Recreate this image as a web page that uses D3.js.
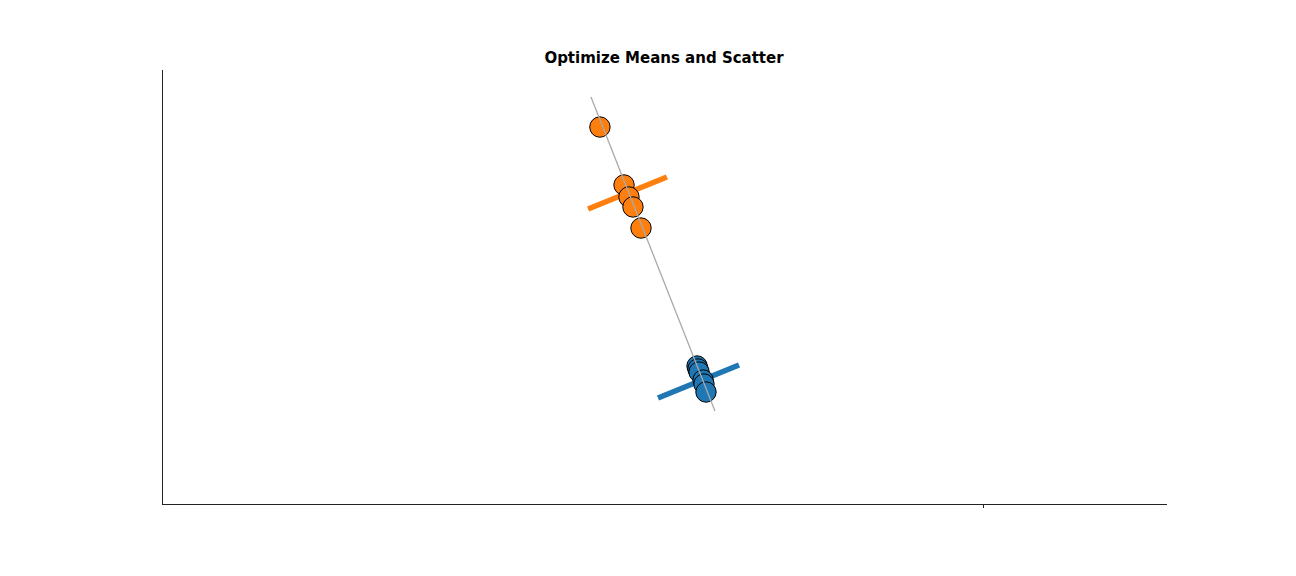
<!DOCTYPE html>
<html><head><meta charset="utf-8">
<script src="https://cdn.jsdelivr.net/npm/d3@7"></script>
<style>body{margin:0;background:#fff}</style>
</head><body>
<svg id="c" width="1296" height="576"></svg>
<script>
const title = "Optimize Means and Scatter";
const xTicks = [0];
const orangeX = [-2.101, -1.969, -1.942, -1.920, -1.876];
const orangeY = [1.833, 1.167, 1.029, 0.914, 0.672];
const blueX = [-1.569, -1.564, -1.558, -1.536, -1.531, -1.520];
const blueY = [-0.914, -0.948, -0.983, -1.075, -1.121, -1.213];
const projLineX = [-2.150, -1.471];
const projLineY = [2.178, -1.431];
const orangeBarX = [-2.166, -1.734];
const orangeBarY = [0.891, 1.259];
const blueBarX = [-1.783, -1.339];
const blueBarY = [-1.282, -0.902];

const svg = d3.select("#c");
const L = 162, R = 1166, T = 69, B = 504;
const x = d3.scaleLinear().domain([-4.5, 1.0]).range([L, R]);
const y = d3.scaleLinear().domain([-2.5, 2.5]).range([B, T]);

const bars = [
  {xs: orangeBarX, ys: orangeBarY, color: "#ff7f0e"},
  {xs: blueBarX, ys: blueBarY, color: "#1f77b4"}
];
svg.selectAll("line.bar").data(bars).join("line").attr("class","bar")
  .attr("x1", d => x(d.xs[0])).attr("y1", d => y(d.ys[0]))
  .attr("x2", d => x(d.xs[1])).attr("y2", d => y(d.ys[1]))
  .attr("stroke", d => d.color).attr("stroke-width", 5.5);

const pts = [];
orangeX.forEach((v,i) => pts.push({x: v, y: orangeY[i], c: "#ff7f0e"}));
blueX.forEach((v,i) => pts.push({x: v, y: blueY[i], c: "#1f77b4"}));
svg.selectAll("circle").data(pts).join("circle")
  .attr("cx", d => x(d.x)).attr("cy", d => y(d.y)).attr("r", 10.2)
  .attr("fill", d => d.c).attr("stroke", "#000").attr("stroke-width", 1);

svg.append("line")
  .attr("x1", x(projLineX[0])).attr("y1", y(projLineY[0]))
  .attr("x2", x(projLineX[1])).attr("y2", y(projLineY[1]))
  .attr("stroke", "#aaa").attr("stroke-width", 1.3);

const xa = svg.append("g").attr("transform", `translate(0,${B})`)
  .call(d3.axisBottom(x).tickValues(xTicks).tickFormat("").tickSize(3.5).tickSizeOuter(0));
const ya = svg.append("g").attr("transform", `translate(${L},0)`)
  .call(d3.axisLeft(y).tickValues([]).tickSizeOuter(0));
[xa, ya].forEach(g => {
  g.selectAll("path").attr("stroke", "#222").attr("stroke-width", 1).attr("shape-rendering", "crispEdges");
  g.selectAll("line").attr("stroke", "#222").attr("stroke-width", 1).attr("shape-rendering", "crispEdges");
});

svg.append("text").attr("x", (L + R) / 2).attr("y", 63)
  .attr("text-anchor", "middle").attr("font-family", "DejaVu Sans")
  .attr("font-weight", "bold").attr("font-size", 15).text(title);
</script>
</body></html>
